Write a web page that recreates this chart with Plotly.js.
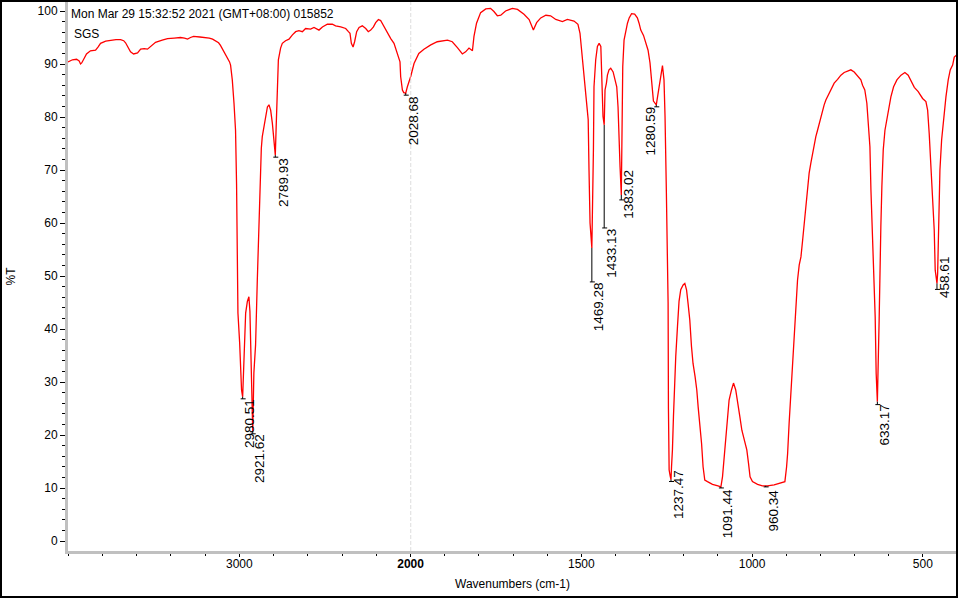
<!DOCTYPE html>
<html>
<head>
<meta charset="utf-8">
<script src="https://cdn.plot.ly/plotly-3.0.1.min.js"></script>
<style>
html,body{margin:0;padding:0;background:#fff;}
#wrap{position:relative;width:960px;height:600px;}
#chart{position:absolute;left:0;top:0;width:960px;height:600px;}
#frame{position:absolute;left:0;top:0;width:958px;height:598px;border:2px solid #000;box-sizing:border-box;pointer-events:none;}
</style>
</head>
<body>
<div id="wrap"><div id="chart"></div><div id="frame"></div></div>
<script>
// ---- Spectrum, 4000-2000 cm-1 (compressed part of the axis) ----
const wnHigh = [
  4000,3974,3950,3935,3927,3920,3910,3892,3869,3839,
  3825,3810,3780,3752,3720,3693,3675,3664,3650,3635,
  3617,3594,3576,3555,3536,3510,3489,3450,3419,3380,
  3343,3320,3302,3285,3267,3230,3197,3175,3156,3140,
  3121,3110,3098,3085,3068,3057,3051,3041,3031,3022,
  3016,3012,3008,2998,2992,2987,2980.51,2977,2969,2963,
  2953,2944,2938,2934,2928,2924,2921.62,2915,2905,2895,
  2889,2885.5,2880,2871.5,2866,2856,2846,2836,2827,2817,
  2807,2801,2796,2789.93,2785,2780,2778,2772,2759,2749,
  2730,2710,2690,2671,2652,2632,2613,2584,2564,2549,
  2535,2515,2486,2457,2438,2408,2379,2363,2354,2346,
  2336,2327,2315,2301,2282,2262,2247,2233,2217,2204,
  2188,2175,2155,2136,2116,2097,2077,2062,2058,2048,
  2040,2028.68,2019,2010,2000
];
const tHigh = [
  90.4,90.8,90.9,90.6,90.0,90.2,90.8,91.9,92.5,92.6,
  93.2,93.9,94.3,94.5,94.6,94.6,94.4,94.0,93.3,92.3,
  91.9,92.1,92.8,92.9,92.8,93.5,94.1,94.5,94.8,94.9,
  95.0,94.9,94.7,95.0,95.2,95.1,95.0,94.9,94.7,94.4,
  94.0,93.5,92.8,92.3,91.3,90.4,89.8,87.0,82.6,77.5,
  67.2,55.0,43.0,37.4,32.8,28.5,27.2,31.0,37.0,43.0,
  45.2,46.1,43.3,37.9,31.7,23.5,20.6,31.7,37.0,49.2,
  54.9,61.2,67.5,74.1,76.3,78.2,80.7,81.9,82.3,81.3,
  78.8,76.3,73.8,72.8,78.0,84.0,85.7,90.8,93.0,93.9,
  94.4,94.7,95.5,96.1,96.3,96.1,96.7,96.6,96.9,96.7,
  96.4,97.0,97.5,97.5,97.2,97.0,96.7,96.1,95.8,93.9,
  93.2,94.2,96.1,96.9,97.2,96.7,96.1,96.4,97.0,97.8,
  98.4,98.2,97.0,95.8,94.8,93.9,92.0,90.4,87.6,85.1,
  84.6,84.5,85.7,86.5,87.6
];

// ---- Spectrum, 2000-400 cm-1 (expanded part of the axis) ----
const wnLow = [
  2000,1990,1976,1961,1941,1922,1892,1878,1863,1848.5,
  1839,1829,1819,1814.5,1807,1795,1780,1766,1756,1746,
  1736,1722,1702,1687,1668,1653,1640.5,1631,1619,1604,
  1590,1575,1555.5,1541,1521.5,1510,1504,1499,1494,1490,
  1484,1480,1477.6,1474.6,1469.28,1466,1464.7,1463,1458,1453,
  1448,1443,1440.4,1436.6,1433.13,1430.7,1426.6,1423.7,1419,1414,
  1407,1401.4,1396.4,1392.6,1389.7,1386.7,1383.02,1380.5,1378.8,1375,
  1370,1365,1360,1353,1344,1336,1331,1326,1318,1311.5,
  1304.7,1299,1295,1292,1289,1280.59,1277,1272.5,1267.5,1262.5,
  1258,1255,1251,1248,1246,1245,1243,1240,1237.47,1236,
  1233.3,1230.3,1226.5,1223.6,1218.6,1214,1209,1202,1197,1192,
  1187.5,1182.5,1177.5,1173,1167,1162,1158,1153,1148,1143.6,
  1138.6,1130.7,1116,1100,1091.44,1086.7,1082,1077,1072,1067.4,
  1060.4,1054.5,1048,1043,1036,1030,1023.4,1015.5,1010.6,1006,
  999,984,970,960.34,955,935.5,916,904,899,896,
  891.6,886.6,881.6,877,872,867,862,857,852,847.6,
  842.6,837.7,833,828,823,818,813.4,808.4,803.7,798.7,
  793.7,789,784,779,769.4,759.7,749.7,740,730.4,720.5,
  710.8,701,691,681.5,676.5,670,664,660,655,652,
  647,642.5,639.6,636.7,634.6,633.17,628,625,623,620,
  616,611,606,600.4,593.6,585.7,576,564,552.6,543,
  535,525,513.6,500.7,491,486,481.4,476.4,471.4,466.7,
  463.8,458.61,456.7,453.8,450,445,439,432.4,425.7,419.8,
  412.8,408,401,400
];
const tLow = [
  87.6,90.1,92.0,92.8,93.6,94.2,94.5,94.2,93.1,91.9,
  92.3,93.0,92.5,95.2,97.7,99.7,100.4,100.5,99.9,99.1,
  99.2,100.0,100.5,100.3,99.4,98.4,96.4,97.8,98.7,99.2,
  99.1,98.4,98.0,98.4,98.1,97.5,95.8,92.6,89.5,85.7,
  81.9,79.5,70.0,60.0,55.3,66.2,73.8,85.7,90.8,93.3,
  93.9,93.3,85.1,80.1,78.5,85.1,86.4,87.9,88.9,89.2,
  88.5,87.0,85.7,81.9,74.4,70.6,65.3,80.1,89.5,94.5,
  96.4,97.7,98.7,99.5,99.4,98.7,97.7,96.4,95.4,93.9,
  92.6,90.2,87.6,85.1,83.0,82.3,83.8,86.0,88.5,89.7,
  87.0,80.1,65.6,52.4,45.0,25.0,13.4,12.3,11.6,14.0,
  17.2,23.5,31.6,34.8,40.4,45.2,47.4,48.3,48.6,47.4,
  44.8,41.7,36.7,33.5,31.0,28.5,25.3,22.2,18.4,14.0,
  11.5,11.2,10.7,10.4,10.2,12.1,15.9,19.7,23.5,26.6,
  28.5,29.8,28.5,26.0,23.5,20.9,19.1,17.2,14.7,12.1,
  11.2,10.7,10.4,10.4,10.4,10.6,10.9,11.2,14.0,16.5,
  22.2,27.5,33.5,38.5,43.5,49.2,52.1,53.6,56.8,59.9,
  63.7,66.8,69.4,71.3,73.2,75.0,76.3,77.5,78.8,80.1,
  81.3,82.3,83.2,83.8,85.1,86.4,87.1,87.9,88.4,88.7,
  88.9,88.5,87.7,87.0,86.0,85.1,82.6,78.8,74.4,66.2,
  56.8,51.8,42.3,31.6,26.6,26.3,41.7,54.9,59.3,66.9,
  73.8,77.5,79.4,81.9,83.8,85.7,87.0,87.9,88.4,87.9,
  87.0,85.6,84.8,83.5,82.9,81.3,76.9,70.0,62.5,58.7,
  51.1,48.6,50.5,62.5,70.0,75.7,80.1,83.8,87.0,88.9,
  89.8,91.3,91.7,92.0
];

// ---- Picked peaks ----
const peakWavenumber = [2980.51,2921.62,2789.93,2028.68,1469.28,1433.13,1383.02,1280.59,1237.47,1091.44,960.34,633.17,458.61];
const peakTransmittance = [27.2,20.6,72.8,84.5,55.3,78.5,65.3,82.3,11.6,10.2,10.4,26.3,48.6];
const peakLabel = ["2980.51","2921.62","2789.93","2028.68","1469.28","1433.13","1383.02","1280.59","1237.47","1091.44","960.34","633.17","458.61"];

// ---- Axis ticks and texts ----
const highTickVals = [3000];
const lowTickVals = [2000,1500,1000,500];
const lowTickText = ["<b>2000</b>","1500","1000","500"];
const headerText = ["Mon Mar 29 15:32:52 2021 (GMT+08:00) 015852","SGS"];
const xTitle = "Wavenumbers (cm-1)";
const yTitle = "%T";

// ---- Layout-only placement of peak labels (pixels) ----
const leaderPx  = [2,2,2,2,34,103,5,2,2,1,1,3,6];
const labelTopPx = [3,3,3,4,35,104,-25,2,-9,3,4,3,-26];
const labelOnLeft = [false,false,false,false,false,false,false,true,false,false,false,false,false];

const BREAK = 2000;
const split = 0.3854;
const FONT = "Liberation Sans, Arial, Helvetica, sans-serif";

const traces = [
  {x: wnHigh, y: tHigh, xaxis: 'x', yaxis: 'y', type: 'scatter', mode: 'lines',
   line: {color: '#ff0000', width: 1.3}, hoverinfo: 'skip'},
  {x: wnLow, y: tLow, xaxis: 'x2', yaxis: 'y', type: 'scatter', mode: 'lines',
   line: {color: '#ff0000', width: 1.3}, hoverinfo: 'skip'}
];

const axisBase = {
  showline: true, linecolor: '#c0c0c0', linewidth: 3, mirror: false,
  showgrid: false, zeroline: false, ticks: 'outside', tickcolor: '#000',
  tickwidth: 1, ticklen: 4, tickfont: {family: FONT, size: 12, color: '#000'}
};

const shapes = [
  {type: 'line', xref: 'x2', yref: 'paper', x0: BREAK, x1: BREAK, y0: 0, y1: 1,
   line: {color: '#b4b4b4', width: 1, dash: '4px,2px'}, layer: 'below'}
];
const annotations = [];

headerText.forEach((t, i) => {
  annotations.push({xref: 'paper', yref: 'paper', x: 0, y: 1, xanchor: 'left', yanchor: 'top',
    xshift: i === 0 ? 1 : 4, yshift: i === 0 ? -3 : -23, showarrow: false, text: t,
    font: {family: FONT, size: 12, color: '#000'}});
});

annotations.push({xref: 'paper', yref: 'paper', x: 0.5, y: 0, yanchor: 'top', xanchor: 'center',
  yshift: -24, showarrow: false, text: xTitle, font: {family: FONT, size: 12, color: '#000'}});

peakWavenumber.forEach((wn, i) => {
  const ax = wn >= BREAK ? 'x' : 'x2';
  const left = labelOnLeft[i];
  annotations.push({xref: ax, yref: 'y', x: wn, y: peakTransmittance[i], text: peakLabel[i],
    textangle: -90, showarrow: false, xanchor: left ? 'right' : 'left', yanchor: 'top',
    xshift: left ? 4 : -2, yshift: -(labelTopPx[i] - 2.5),
    font: {family: FONT, size: 13.5, color: '#000'}});
  shapes.push({type: 'line', xref: ax, yref: 'y', x0: wn, x1: wn,
    ysizemode: 'pixel', yanchor: peakTransmittance[i], y0: 0, y1: -leaderPx[i],
    line: {color: '#000', width: 1}});
  shapes.push({type: 'line', xref: ax, yref: 'y', xsizemode: 'pixel', xanchor: wn, x0: -2, x1: 3,
    ysizemode: 'pixel', yanchor: peakTransmittance[i], y0: -leaderPx[i], y1: -leaderPx[i],
    line: {color: '#000', width: 1}});
});

const layout = {
  width: 960, height: 600,
  margin: {l: 68, r: 3, t: 2, b: 49, pad: 0},
  paper_bgcolor: '#fff', plot_bgcolor: '#fff',
  showlegend: false, hovermode: false,
  font: {family: FONT, size: 12, color: '#000'},
  xaxis: Object.assign({}, axisBase, {
    domain: [0, split], range: [4000, BREAK], anchor: 'y', ticklen: 3, ticklabelstandoff: -3,
    tickmode: 'array', tickvals: highTickVals,
    minor: {ticks: 'outside', dtick: 200, tick0: 0, ticklen: 2, tickcolor: '#000'}
  }),
  xaxis2: Object.assign({}, axisBase, {
    domain: [split, 1], range: [BREAK, 400], anchor: 'y', ticklen: 3, ticklabelstandoff: -3,
    tickmode: 'array', tickvals: lowTickVals, ticktext: lowTickText,
    minor: {ticks: 'outside', dtick: 100, tick0: 0, ticklen: 2, tickcolor: '#000'}
  }),
  yaxis: Object.assign({}, axisBase, {
    range: [-1.887, 101.70], tickmode: 'linear', tick0: 0, dtick: 10, ticklen: 5,
    minor: {ticks: 'outside', dtick: 2, ticklen: 3, tickcolor: '#000'},
    title: {text: yTitle, standoff: 20, font: {family: FONT, size: 12, color: '#000'}}
  }),
  shapes: shapes,
  annotations: annotations
};

Plotly.newPlot('chart', traces, layout, {staticPlot: true, displayModeBar: false});
</script>
</body>
</html>
